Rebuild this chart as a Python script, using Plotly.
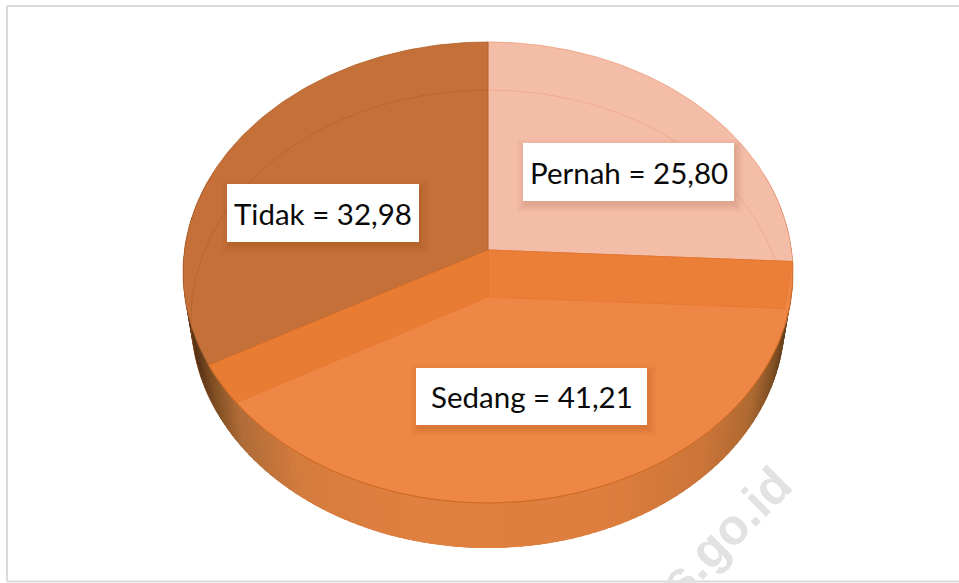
import numpy as np
import plotly.graph_objects as go

categories = ["Pernah", "Sedang", "Tidak"]
values = [25.80, 41.21, 32.98]
top_colors = ["#F4BDA8", "#EE8745", "#C47038"]
edge_colors = ["#EF9A78", "#D9742F", "#AD6029"]
label_boxes = [(523, 734, 143, 201), (416, 647, 368, 425), (227, 419, 184, 242)]

W, H = 959, 583
CX = 488.0
# pie rims in perspective: apex y, back extent, front extent, half width
TOP_RIM = (250.0, 208.0, 253.0, 305.0)
BASE_RIM = (297.0, 207.0, 251.0, 297.0)


def rim(theta_deg, spec):
    apex, back, front, half = spec
    k = (back - front) / (back + front)
    a = front * (1 + k)
    r = half * np.sqrt(1 - k * k)
    t = np.radians(np.asarray(theta_deg, dtype=float))
    u, v = np.sin(t), -np.cos(t)
    w = 1 + k * v
    return CX + r * u / w, apex + a * v / w


def poly(fig, x, y, fill, line=None, width=0.0):
    fig.add_trace(go.Scatter(
        x=list(x), y=list(y), mode="lines", fill="toself", fillcolor=fill,
        line=dict(color=line or fill, width=width), hoverinfo="skip", showlegend=False))


def stroke(fig, x, y, color, width=1.0):
    fig.add_trace(go.Scatter(
        x=list(x), y=list(y), mode="lines", line=dict(color=color, width=width),
        hoverinfo="skip", showlegend=False))


def lerp_color(xv):
    stops_x = [185, 200, 215, 240, 300, 400, 488, 600, 700, 750, 775, 792]
    r = [70, 95, 130, 176, 212, 223, 224, 222, 205, 175, 125, 75]
    g = [44, 56, 80, 108, 124, 128, 128, 127, 118, 106, 78, 46]
    b = [20, 24, 36, 56, 62, 64, 64, 63, 58, 50, 36, 20]
    return "rgb(%d,%d,%d)" % (np.interp(xv, stops_x, r), np.interp(xv, stops_x, g), np.interp(xv, stops_x, b))


total = sum(values)
bounds = np.cumsum([0] + values) / total * 360.0
fig = go.Figure()

# outer wall, shaded across its width; each strip overlaps the next so no seams show
steps = np.arange(70, 180, 1.5)
left_steps = np.arange(291, 180, -1.5)
for seq, sgn in ((steps, 1), (left_steps, -1)):
    for t0 in seq:
        t1 = t0 + sgn * 4.0
        if sgn > 0:
            t1 = min(t1, 185)
        else:
            t1 = max(t1, 175)
        th = np.linspace(t0, t1, 5)
        xa, ya = rim(th, TOP_RIM)
        xb, yb = rim(th[::-1], BASE_RIM)
        xm = rim(t0 + sgn * 0.75, TOP_RIM)[0] * 0.5 + rim(t0 + sgn * 0.75, BASE_RIM)[0] * 0.5
        poly(fig, np.r_[xa, xb, xa[0]], np.r_[ya, yb, ya[0]], lerp_color(xm))

# top faces
apex_top = (CX, TOP_RIM[0])
apex_base = (CX, BASE_RIM[0])
for i, col in enumerate(top_colors):
    th = np.linspace(bounds[i], bounds[i + 1], 120)
    xs, ys = rim(th, TOP_RIM)
    poly(fig, np.r_[apex_top[0], xs, apex_top[0]], np.r_[apex_top[1], ys, apex_top[1]], col, edge_colors[i], 0.8)

# far rim of the base seen through the translucent top
for i in (0, 2):
    lo, hi = (bounds[0], bounds[1]) if i == 0 else (bounds[2], bounds[3])
    xs, ys = rim(np.linspace(lo, hi, 100), BASE_RIM)
    stroke(fig, xs, ys, "rgba(238,150,115,0.55)" if i == 0 else "rgba(170,92,38,0.55)", 0.9)

# cut faces of the middle slice
t_end1 = bounds[1]
xt, yt = rim(t_end1, TOP_RIM)
xb, yb = rim(t_end1, BASE_RIM)
poly(fig, [CX, xt, xb, CX, CX], [TOP_RIM[0], yt, yb, BASE_RIM[0], TOP_RIM[0]], "#EC7F38", "#E0702A", 0.5)

t_end2 = bounds[2]
xb2, yb2 = rim(t_end2, BASE_RIM)
arc = np.linspace(t_end2, t_end2 - 40, 300)
ax, ay = rim(arc, TOP_RIM)
line_y = BASE_RIM[0] + (ax - CX) * (yb2 - BASE_RIM[0]) / (xb2 - CX)
keep = np.cumprod(ay < line_y).astype(bool)
poly(fig, np.r_[CX, ax[keep], CX, CX], np.r_[TOP_RIM[0], ay[keep], BASE_RIM[0], TOP_RIM[0]], "#E97C33", "#E0702A", 0.5)

# front rim line
xs, ys = rim(np.linspace(bounds[1] + 6, bounds[2], 160), TOP_RIM)
stroke(fig, xs, ys, "#CC6A22", 1.0)

shapes = []
# frame
for x0, y0, x1, y1 in [(7, 6, 7, 581.5), (7, 6, W, 6), (7, 581.5, W, 581.5)]:
    shapes.append(dict(type="line", xref="x", yref="y", x0=x0, y0=y0, x1=x1, y1=y1,
                       line=dict(color="#DADADA", width=2)))
# label boxes with soft shadow
for (x0, x1, y0, y1) in label_boxes:
    for grow, alpha in [(8, 0.02), (6, 0.025), (4, 0.03), (2, 0.035), (0, 0.04)]:
        shapes.append(dict(type="rect", xref="x", yref="y", x0=x0 + 2 - grow, x1=x1 + 2 + grow,
                           y0=y0 + 4 - grow, y1=y1 + 4 + grow, line_width=0,
                           fillcolor="rgba(110,45,10,%.3f)" % alpha))
    shapes.append(dict(type="rect", xref="x", yref="y", x0=x0, x1=x1, y0=y0, y1=y1,
                       line_width=0, fillcolor="#FFFFFF"))

annotations = []
for cat, val, (x0, x1, y0, y1) in zip(categories, values, label_boxes):
    annotations.append(dict(
        x=(x0 + x1) / 2, y=(y0 + y1) / 2, xref="x", yref="y", showarrow=False,
        text="%s = %s" % (cat, ("%.2f" % val).replace(".", ",")),
        font=dict(family="Lato, sans-serif", size=29.5, color="#0A0A0A")))
annotations.append(dict(
    x=703.5, y=554.5, xref="x", yref="y", showarrow=False, text="<b>bps.go.id</b>", textangle=-45,
    font=dict(family="Liberation Sans, Arial, sans-serif", size=50, color="#E2E2E2")))

fig.update_layout(
    width=W, height=H, margin=dict(l=0, r=0, t=0, b=0), autosize=False,
    paper_bgcolor="white", plot_bgcolor="white", showlegend=False,
    xaxis=dict(range=[0, W], visible=False, fixedrange=True),
    yaxis=dict(range=[H, 0], visible=False, fixedrange=True),
    shapes=shapes, annotations=annotations, hovermode=False)

fig.write_html("out.html", config={"displayModeBar": False},
               post_script="document.body.style.margin='0';document.body.style.overflow='hidden';")
